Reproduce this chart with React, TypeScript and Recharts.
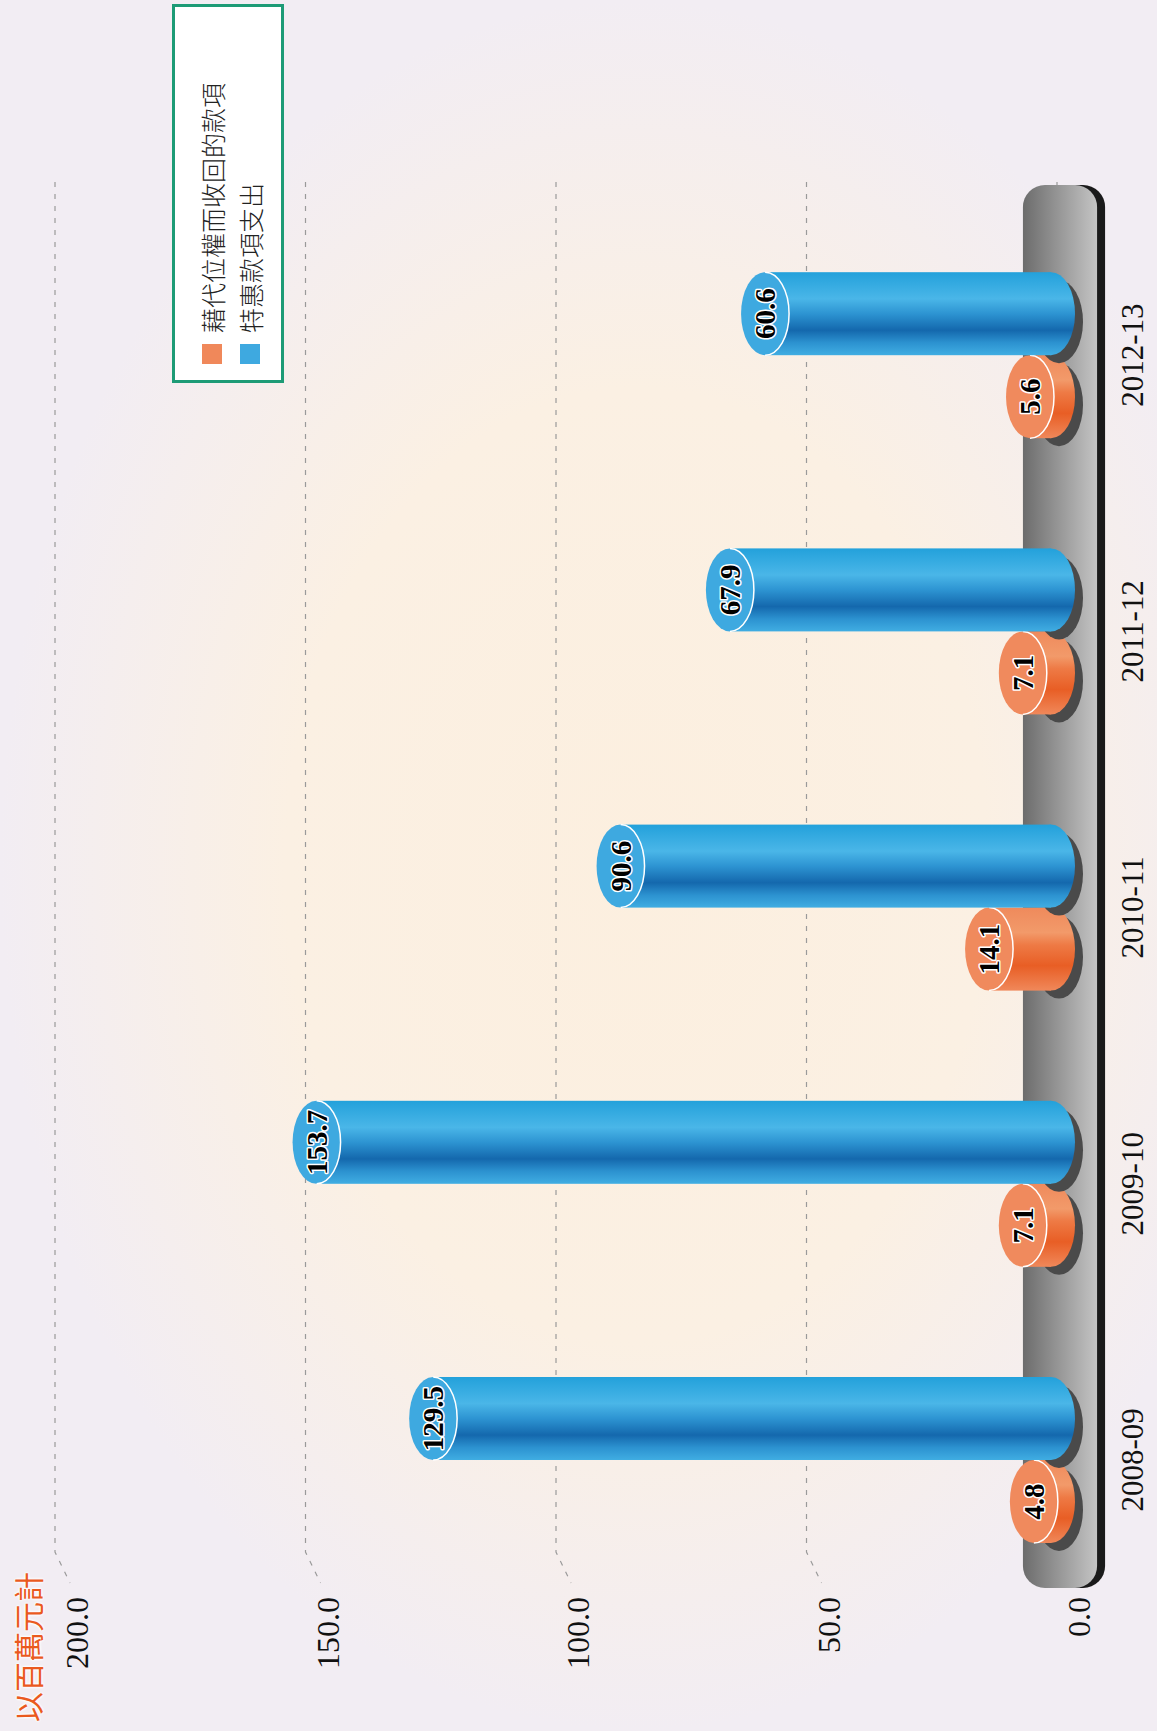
import React from "react";
import {
  ComposedChart,
  Bar,
  Line,
  XAxis,
  YAxis,
  CartesianGrid,
  Legend,
  LabelList,
  ReferenceArea,
} from "recharts";

const categories = ["2008-09", "2009-10", "2010-11", "2011-12", "2012-13"];
const recovered = [4.8, 7.1, 14.1, 7.1, 5.6];
const specialPayments = [129.5, 153.7, 90.6, 67.9, 60.6];
const valueTicks = [0, 50, 100, 150, 200];
const seriesNames = ["藉代位權而收回的款項", "特惠款項支出"];
const unitLabel = "以百萬元計";
// the cylinders in the source sit on a slightly flatter scale than the wall grid
const barDomainMax = 208;
// the grey plinth under the bars, in value units
const baseLow = -8;
const baseHigh = 6.8;

const data = categories.map((year, i) => ({
  year,
  recovered: recovered[i],
  special: specialPayments[i],
}));

const W = 1731;
const H = 1157;
const SERIF = '"Liberation Serif", "Times New Roman", Times, serif';
const CJK = '"Noto Sans CJK TC", "Noto Sans CJK SC", sans-serif';

const palettes: Record<string, { top: string; stops: [number, string][] }> = {
  blue: {
    top: "#3ea9e0",
    stops: [
      [0, "#40ade2"],
      [0.15, "#2c92d0"],
      [0.3, "#1468ad"],
      [0.5, "#2d94d2"],
      [0.68, "#4ab6e8"],
      [1, "#23a1db"],
    ],
  },
  orange: {
    top: "#f08a5d",
    stops: [
      [0, "#f0885a"],
      [0.3, "#e85e25"],
      [0.55, "#ee7a45"],
      [0.7, "#f29a6a"],
      [1, "#ef8a5c"],
    ],
  },
};

function Cylinder(props: any) {
  const { x, y, width, height, index, tone } = props;
  if (width == null || height == null) return null;
  const pal = palettes[tone];
  const id = `cyl-${tone}-${index}`;
  const cx = x + width / 2;
  const rx = width / 2;
  const ry = 24;
  const bottom = y + height - 6;
  return (
    <g>
      <defs>
        <linearGradient id={id} x1="0" y1="0" x2="1" y2="0">
          {pal.stops.map(([o, c]) => (
            <stop key={o} offset={o} stopColor={c} />
          ))}
        </linearGradient>
      </defs>
      <ellipse cx={cx - 8} cy={bottom + 8} rx={rx} ry={ry} fill="#4a4a4a" />
      <rect x={x} y={y} width={width} height={Math.max(bottom - y, 0)} fill={`url(#${id})`} />
      <ellipse cx={cx} cy={bottom} rx={rx} ry={ry} fill={`url(#${id})`} />
      <ellipse cx={cx} cy={y} rx={rx} ry={ry} fill={pal.top} />
      <path
        d={`M ${x} ${y} A ${rx} ${ry} 0 0 0 ${x + width} ${y}`}
        fill="none"
        stroke="#ffffff"
        strokeWidth={1.5}
      />
    </g>
  );
}

function ValueLabel(props: any) {
  const { x, y, width, value } = props;
  return (
    <text
      x={x + width / 2}
      y={y + 10}
      textAnchor="middle"
      style={{ fontFamily: SERIF, fontSize: 29, fontWeight: 700 }}
      fill="#000"
      stroke="#fff"
      strokeWidth={3}
      paintOrder="stroke"
      strokeLinejoin="round"
    >
      {Number(value).toFixed(1)}
    </text>
  );
}

function Plinth(props: any) {
  const { x, y, width, height } = props;
  // the plinth runs a little past the outer category bands
  const left = x + 10;
  const right = x + width + 32;
  return (
    <g>
      <defs>
        <linearGradient id="plinth" x1="0" y1="0" x2="0" y2="1">
          <stop offset="0" stopColor="#6c6c6c" />
          <stop offset="1" stopColor="#c4c4c4" />
        </linearGradient>
      </defs>
      <rect x={left} y={y + 8} width={right - left} height={height} rx={22} fill="#1a1a1a" />
      <rect x={left} y={y} width={right - left} height={height} rx={22} fill="url(#plinth)" />
    </g>
  );
}

function GridLine(props: any) {
  const { x1, x2, y1 } = props;
  return (
    <path
      d={`M ${x2} ${y1} L ${x1 + 36} ${y1} L ${x1 + 5} ${y1 + 15}`}
      fill="none"
      stroke="#9a9a9a"
      strokeWidth={1.2}
      strokeDasharray="5 7"
    />
  );
}

function ValueTick(props: any) {
  const { x, y, payload } = props;
  return (
    <text
      x={x - 9}
      y={y + 33}
      textAnchor="end"
      style={{ fontFamily: SERIF, fontSize: 32 }}
      fill="#111"
    >
      {Number(payload.value).toFixed(1)}
    </text>
  );
}

function YearTick(props: any) {
  const { x, y, payload } = props;
  return (
    <text
      x={x}
      y={y + 86}
      textAnchor="middle"
      style={{ fontFamily: SERIF, fontSize: 31 }}
      fill="#111"
    >
      {payload.value}
    </text>
  );
}

function LegendBox() {
  const colors = ["#f0885a", "#3ea9e0"];
  return (
    <div style={{ position: "relative", width: "100%", height: "100%" }}>
      {seriesNames.map((name, i) => (
        <div
          key={name}
          style={{
            position: "absolute",
            left: 16,
            top: 22 + i * 38,
            display: "flex",
            alignItems: "center",
            height: 30,
          }}
        >
          <span style={{ width: 20, height: 20, background: colors[i], display: "inline-block" }} />
          <span
            style={{
              marginLeft: 11,
              fontFamily: CJK,
              fontSize: 25,
              fontWeight: 300,
              color: "#222",
              lineHeight: "30px",
            }}
          >
            {name}
          </span>
        </div>
      ))}
    </div>
  );
}

export default function App() {
  return (
    <div
      style={{
        position: "absolute",
        left: 0,
        top: 0,
        width: W,
        height: H,
        transform: `translateY(${W}px) rotate(-90deg)`,
        transformOrigin: "0 0",
        background:
          "radial-gradient(ellipse 50% 55% at 50% 55%, #fcefdf 0%, #fbf0e3 55%, #f2edf3 100%)",
        overflow: "hidden",
      }}
    >
      <div
        style={{
          position: "absolute",
          left: 9,
          top: 10,
          fontFamily: CJK,
          fontSize: 30,
          color: "#ea5a1e",
          textShadow: "0 0 3px #fff, 0 0 3px #fff, 0 0 3px #fff",
          lineHeight: "34px",
        }}
      >
        {unitLabel}
      </div>
      <ComposedChart
        width={W}
        height={H}
        data={data}
        margin={{ top: 55, right: 182, bottom: 0, left: 0 }}
        barGap={0}
        barSize={83}
      >
        <CartesianGrid vertical={false} horizontal={<GridLine />} stroke="#9a9a9a" />
        <XAxis
          dataKey="year"
          height={100}
          axisLine={false}
          tickLine={false}
          tickSize={0}
          tickMargin={0}
          padding={{ left: -10, right: 35 }}
          tick={<YearTick />}
          interval={0}
        />
        <YAxis
          width={143}
          domain={[0, 200]}
          ticks={valueTicks}
          axisLine={false}
          tickLine={false}
          tickSize={0}
          tickMargin={0}
          tick={<ValueTick />}
        />
        <YAxis yAxisId="bars" hide domain={[0, barDomainMax]} />
        <ReferenceArea y1={baseLow} y2={baseHigh} ifOverflow="visible" shape={<Plinth />} />
        {/* invisible carrier so the wall-grid axis has a series bound to it */}
        <Line
          dataKey="special"
          stroke="none"
          dot={false}
          activeDot={false}
          legendType="none"
          isAnimationActive={false}
        />
        <Legend
          layout="vertical"
          align="center"
          verticalAlign="middle"
          content={<LegendBox />}
          wrapperStyle={{
            left: 1348,
            top: 172,
            width: 379,
            height: 112,
            border: "3px solid #1d9b76",
            background: "#ffffff",
            boxSizing: "border-box",
          }}
        />
        <Bar
          yAxisId="bars"
          dataKey="recovered"
          name={seriesNames[0]}
          fill="#f0885a"
          isAnimationActive={false}
          shape={(p: any) => <Cylinder {...p} tone="orange" />}
        >
          <LabelList dataKey="recovered" content={<ValueLabel />} />
        </Bar>
        <Bar
          yAxisId="bars"
          dataKey="special"
          name={seriesNames[1]}
          fill="#3ea9e0"
          isAnimationActive={false}
          shape={(p: any) => <Cylinder {...p} tone="blue" />}
        >
          <LabelList dataKey="special" content={<ValueLabel />} />
        </Bar>
      </ComposedChart>
    </div>
  );
}
